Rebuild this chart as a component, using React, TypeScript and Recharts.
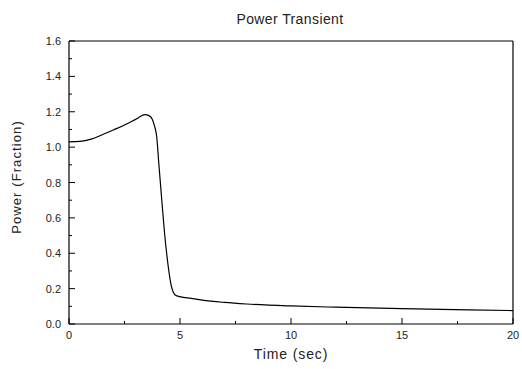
import React from 'react';
import { LineChart, Line, XAxis, YAxis, ReferenceLine } from 'recharts';

const times = [0, 0.5, 1.0, 1.5, 2.0, 2.5, 3.0, 3.42, 3.6, 3.75, 3.85, 3.95, 4.05, 4.18, 4.3, 4.47, 4.6, 4.7, 4.8, 5.0, 5.5, 6, 7, 8, 10, 12, 15, 18, 20];
const power = [1.03, 1.032, 1.045, 1.07, 1.097, 1.125, 1.157, 1.184, 1.178, 1.158, 1.12, 1.06, 0.9, 0.7, 0.52, 0.325, 0.22, 0.18, 0.163, 0.155, 0.145, 0.135, 0.122, 0.113, 0.102, 0.095, 0.087, 0.08, 0.076];
const xTicks = [0, 2.5, 5, 7.5, 10, 12.5, 15, 17.5, 20];
const yTicks = [0, 0.1, 0.2, 0.3, 0.4, 0.5, 0.6, 0.7, 0.8, 0.9, 1.0, 1.1, 1.2, 1.3, 1.4, 1.5, 1.6];

const data = times.map((t, i) => ({ t, p: power[i] }));

const FONT = '"Liberation Sans", Arial, sans-serif';
const MARGIN = 8;

const YTick = (props: any) => {
  const { x, y, payload } = props;
  const v = payload.value;
  const major = Math.round(v * 10) % 2 === 0;
  const ax = x + MARGIN;
  return (
    <g>
      <line x1={ax} x2={ax + (major ? 6 : 3)} y1={y} y2={y} stroke="#000" strokeWidth={1} />
      {major && (
        <text x={x} y={y} dy={4} textAnchor="end" fontSize={11} fill="#222" fontFamily={FONT}>
          {v.toFixed(1)}
        </text>
      )}
    </g>
  );
};

const XTick = (props: any) => {
  const { x, y, payload } = props;
  const v = payload.value;
  const major = v % 5 === 0;
  const ay = y - MARGIN;
  return (
    <g>
      <line x1={x} x2={x} y1={ay} y2={ay - (major ? 6 : 3)} stroke="#000" strokeWidth={1} />
      {major && (
        <text x={x} y={y} dy={7} textAnchor="middle" fontSize={11} fill="#222" fontFamily={FONT}>
          {String(v)}
        </text>
      )}
    </g>
  );
};

export default function App() {
  return (
    <div style={{ position: 'fixed', left: 0, top: 0, width: 522, height: 369, overflow: 'hidden', fontFamily: FONT, color: '#222', background: '#fff' }}>
      <div style={{ position: 'absolute', left: 140, width: 300, top: 11, textAlign: 'center', fontSize: 14, letterSpacing: 0.4, lineHeight: '16px', whiteSpace: 'nowrap' }}>
        Power Transient
      </div>
      <div style={{ position: 'absolute', left: 141, width: 300, top: 346, textAlign: 'center', fontSize: 14, letterSpacing: 0.9, lineHeight: '16px', whiteSpace: 'nowrap' }}>
        Time (sec)
      </div>
      <div style={{ position: 'absolute', left: 16.5 - 100, width: 200, top: 176.5 - 8, textAlign: 'center', fontSize: 13, letterSpacing: 1.1, lineHeight: '16px', whiteSpace: 'nowrap', transform: 'rotate(-90deg)' }}>
        Power (Fraction)
      </div>
      <LineChart width={522} height={369} data={data} margin={{ top: 41, right: 9, bottom: 15, left: 29 }}>
        <XAxis
          dataKey="t"
          type="number"
          domain={[0, 20]}
          ticks={xTicks}
          interval={0}
          tickSize={0}
          tickMargin={MARGIN}
          height={30}
          axisLine={{ stroke: '#000', strokeWidth: 1.2 }}
          tick={<XTick />}
          allowDataOverflow
        />
        <YAxis
          type="number"
          domain={[0, 1.6]}
          ticks={yTicks}
          interval={0}
          tickSize={0}
          tickMargin={MARGIN}
          width={40}
          axisLine={{ stroke: '#000', strokeWidth: 1.2 }}
          tick={<YTick />}
          allowDataOverflow
        />
        <ReferenceLine y={1.6} stroke="#000" strokeWidth={1.2} />
        <ReferenceLine x={20} stroke="#000" strokeWidth={1.2} />
        <Line type="monotone" dataKey="p" stroke="#000" strokeWidth={1.2} dot={false} isAnimationActive={false} />
      </LineChart>
    </div>
  );
}
